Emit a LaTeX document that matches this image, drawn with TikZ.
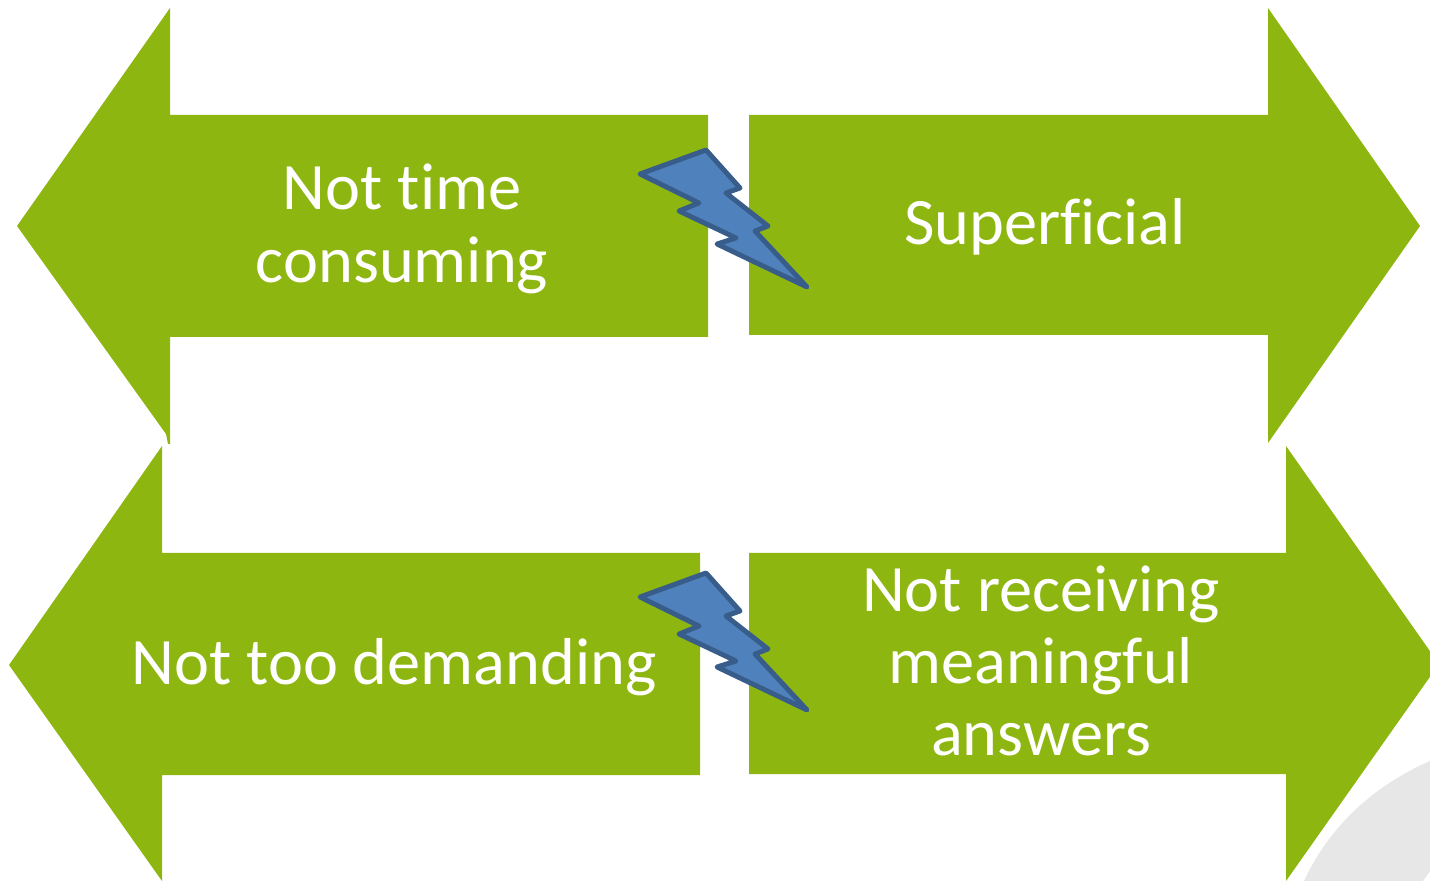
\documentclass[tikz,border=0pt]{standalone}
\usepackage{fontspec}
\setmainfont[Ligatures=CommonOff]{Carlito}
\definecolor{arrowgreen}{HTML}{8EB611}
\definecolor{boltblue}{HTML}{4F81BD}
\definecolor{boltedge}{HTML}{385D8A}
\definecolor{swooshgray}{HTML}{E7E7E7}
\begin{document}
\begin{tikzpicture}[x=0.02cm,y=-0.02cm]
	\tikzset{arrowshape/.style = {fill=arrowgreen}}
	\tikzset{label/.style = {text=white,align=center,font=\fontsize{37.75}{41.2}\selectfont}}
	\tikzset{bolt/.style = {fill=boltblue,draw=boltedge,line width=2.8pt,line join=round}}
	\useasboundingbox (0,0) rectangle (1430,881);
	\clip (0,0) rectangle (1430,881);
    % background
    \fill[swooshgray] (1430,761) .. controls (1375,785) and (1330,825) .. (1304,881) -- (1423,881) -- (1430,871) -- cycle;
    % arrows
    \fill[arrowshape] (17,226) -- (170,8) -- (170,115) -- (708,115) -- (708,337) -- (170,337) -- (170,444) -- (168,444) -- (166,434) -- cycle;
    \fill[arrowshape] (1420,226) -- (1268,8) -- (1268,115) -- (749,115) -- (749,335) -- (1268,335) -- (1268,443) -- cycle;
    \fill[arrowshape] (9,665) -- (162,446) -- (162,553) -- (700,553) -- (700,775) -- (162,775) -- (162,881) -- cycle;
    \fill[arrowshape] (1439,664) -- (1286,446) -- (1286,553) -- (749,553) -- (749,774) -- (1286,774) -- (1286,881) -- cycle;
    % labels
    \node[label] (time) at (402,229) {Not time\\consuming};
    \node[label] (superficial) at (1045,227) {Superficial};
    \node[label] (demanding) at (394,667) {Not too demanding};
    \node[label] (answers) at (1041,661) {Not receiving\\meaningful\\answers};
    % bolts
    \foreach \dy in {0,423} {
    	\draw[bolt,yshift=-\dy*0.02cm] (640,174) -- (706,150) -- (740,188) -- (726,193) -- (768,226) -- (755,231) -- (807,287) -- (717,244) -- (736,238) -- (679,211) -- (699,203) -- cycle;
    }
\end{tikzpicture}
\end{document}
